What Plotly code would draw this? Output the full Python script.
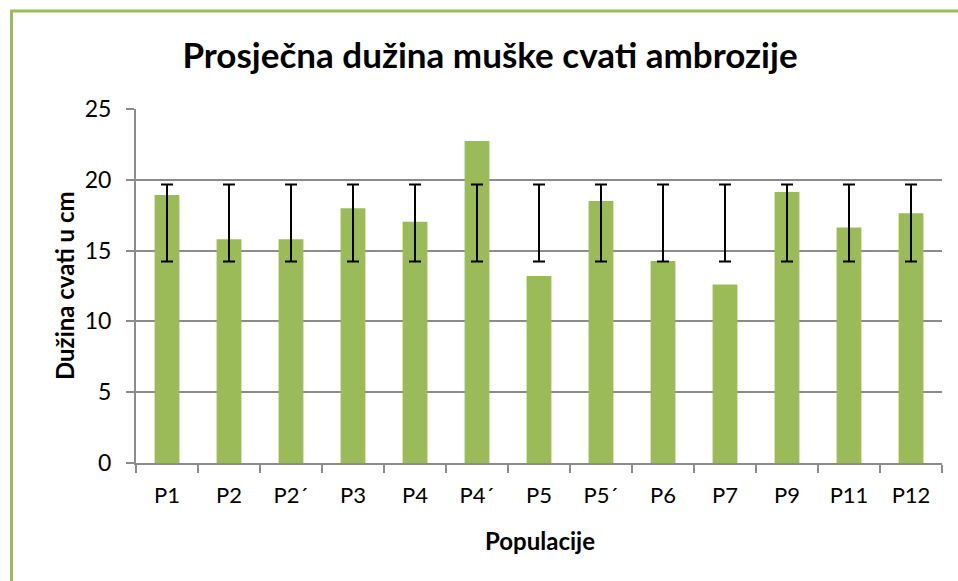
import plotly.graph_objects as go

populations = ["P1", "P2", "P2´", "P3", "P4", "P4´", "P5", "P5´", "P6", "P7", "P9", "P11", "P12"]
mean_length = [18.93, 15.80, 15.80, 17.99, 17.04, 22.74, 13.20, 18.50, 14.27, 12.60, 19.14, 16.64, 17.63]
# Excel "standard deviation" error bars: centred on the series mean, +/- one SD
err_center = [16.95] * len(populations)
err_sd = [2.72] * len(populations)

title_text = "Prosječna dužina muške cvati ambrozije"
x_title = "Populacije"
y_title = "Dužina cvati u cm"

GREEN = "#9BBB59"
GRID = "#8C8C8C"
FONT = "Lato, 'Open Sans', sans-serif"

fig = go.Figure()
fig.add_trace(go.Bar(
    x=populations, y=mean_length,
    marker=dict(color=GREEN, line=dict(width=0)),
    showlegend=False, hoverinfo="x+y",
))
fig.add_trace(go.Scatter(
    x=populations, y=err_center, mode="markers",
    marker=dict(size=0.1, color="rgba(0,0,0,0)"),
    error_y=dict(type="data", array=err_sd, symmetric=True,
                 color="black", thickness=2, width=6),
    showlegend=False, hoverinfo="skip",
))

L, R, T, B = 136, 16, 109, 118
W, H = 958, 581
pw = W - L - R
ph = H - T - B

def px_x(px):
    return (px - L) / pw

def px_y(py):
    return (H - B - py) / ph

fig.update_layout(
    width=W, height=H,
    margin=dict(l=L, r=R, t=T, b=B),
    paper_bgcolor="white", plot_bgcolor="white",
    font=dict(family=FONT, color="black", size=22),
    bargap=0.6,
    title=dict(text="<b>" + title_text + "</b>", x=490 / W, xanchor="center",
               y=1 - 56 / H, yanchor="middle",
               font=dict(family=FONT, size=35, color="black")),
    xaxis=dict(
        type="category", showgrid=False,
        showline=True, linecolor=GRID, linewidth=2,
        ticks="outside", tickson="boundaries", ticklen=8, tickcolor=GRID, tickwidth=2,
        tickfont=dict(size=22), range=[-0.5, 12.5], ticklabelstandoff=12,
    ),
    yaxis=dict(
        range=[0, 25], dtick=5, tick0=0,
        showgrid=True, gridcolor=GRID, gridwidth=2,
        showline=True, linecolor=GRID, linewidth=2,
        ticks="outside", ticklen=8, tickcolor=GRID, tickwidth=2,
        tickfont=dict(size=23), zeroline=False, ticklabelstandoff=10,
    ),
    annotations=[
        dict(text="<b>" + x_title + "</b>", xref="paper", yref="paper",
             x=px_x(540), y=px_y(540), xanchor="center", yanchor="middle",
             showarrow=False, font=dict(size=24)),
        dict(text="<b>" + y_title + "</b>", xref="paper", yref="paper",
             x=px_x(64), y=px_y(286), xanchor="center", yanchor="middle",
             textangle=-90, showarrow=False, font=dict(size=24)),
    ],
    shapes=[
        dict(type="line", xref="paper", yref="paper",
             x0=px_x(11.5), x1=px_x(11.5), y0=px_y(10), y1=px_y(700),
             line=dict(color=GREEN, width=3)),
        dict(type="line", xref="paper", yref="paper",
             x0=px_x(10), x1=px_x(1100), y0=px_y(11), y1=px_y(11),
             line=dict(color=GREEN, width=3)),
    ],
)

fig.write_html("out.html", config={"displayModeBar": False},
               post_script="document.body.style.margin='0';document.body.style.overflow='hidden';")
